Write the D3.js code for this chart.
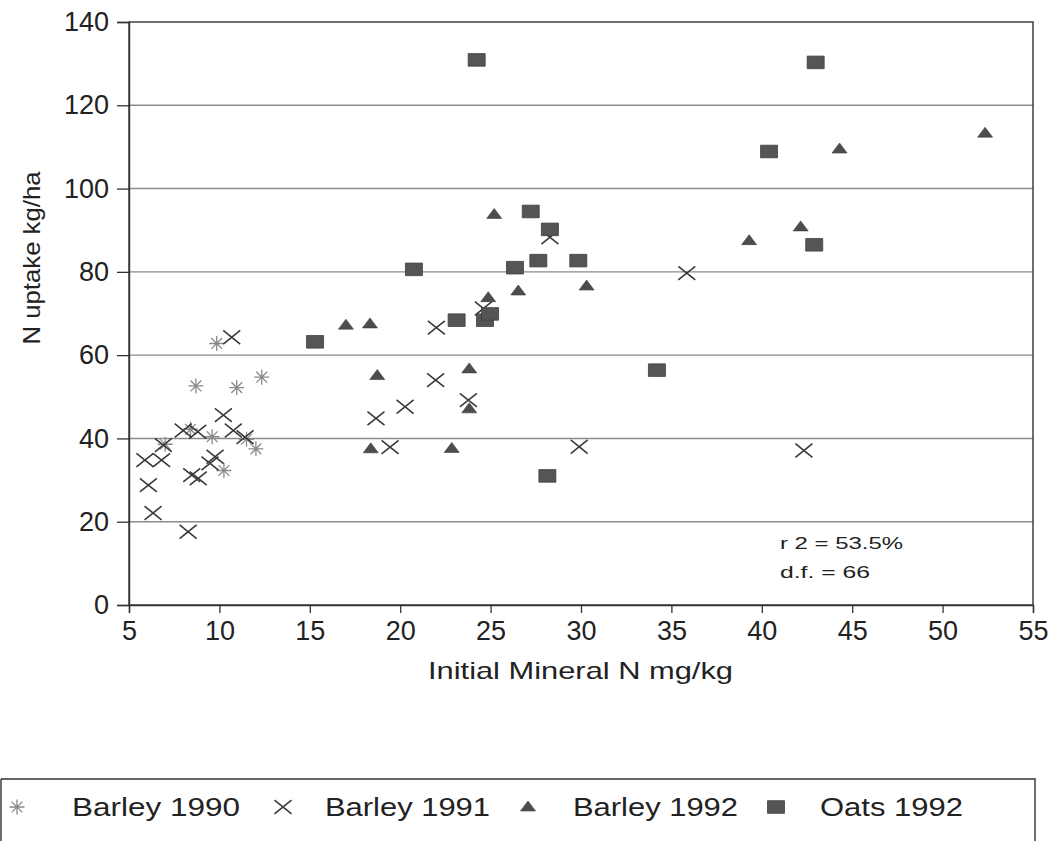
<!DOCTYPE html>
<html>
<head>
<meta charset="utf-8">
<script src="https://cdn.jsdelivr.net/npm/d3@7"></script>
<style>
  html, body { margin: 0; padding: 0; background: #fff; }
  svg { display: block; }
  text { font-family: "Liberation Sans", Arial, sans-serif; fill: #222; }
</style>
</head>
<body>
<svg id="chart" width="1055" height="841"></svg>
<script>
// Initial mineral N (mg/kg) against N uptake (kg/ha), per crop and year
const barley1990X = [9.85, 8.7, 10.96, 12.34, 9.6, 12.02, 10.25, 8.4, 11.5, 7.0];
const barley1990Y = [62.8, 52.6, 52.2, 54.7, 40.4, 37.5, 32.3, 42.2, 39.8, 38.6];

const barley1991X = [10.68, 10.22, 8.0, 8.8, 10.77, 11.42, 6.9, 5.88, 6.8, 9.76, 9.48, 8.47, 8.83,
                     6.07, 6.33, 8.27, 22.0, 21.96, 23.77, 20.27, 18.66, 19.44, 29.9, 28.28, 35.85, 42.33, 24.6];
const barley1991Y = [64.3, 45.6, 41.9, 41.6, 41.9, 40.3, 38.4, 34.8, 34.8, 35.6, 34.0, 31.2, 30.4,
                     28.8, 22.1, 17.6, 66.6, 54.0, 49.2, 47.6, 44.8, 37.9, 38.0, 88.3, 79.7, 37.1, 71.2];

const barley1992X = [17.0, 18.33, 18.73, 23.82, 23.82, 18.37, 22.85, 24.87, 26.53, 30.31, 25.2, 39.3, 42.15, 44.3, 52.35];
const barley1992Y = [67.2, 67.5, 55.1, 56.7, 47.1, 37.5, 37.6, 73.8, 75.4, 76.6, 93.8, 87.5, 90.8, 109.5, 113.3];

const oats1992X = [24.23, 42.98, 40.4, 42.9, 27.22, 28.28, 27.64, 29.85, 20.76, 26.35, 23.12, 24.69, 24.97, 15.29, 28.14, 34.2];
const oats1992Y = [130.9, 130.3, 108.9, 86.5, 94.5, 90.2, 82.7, 82.7, 80.6, 81.0, 68.4, 68.4, 69.9, 63.2, 31.0, 56.4];

const xTicks = [5, 10, 15, 20, 25, 30, 35, 40, 45, 50, 55];
const yTicks = [0, 20, 40, 60, 80, 100, 120, 140];
const gridValues = [20, 40, 60, 80, 100, 120];

const seriesNames = ["Barley 1990", "Barley 1991", "Barley 1992", "Oats 1992"];
const statLines = ["r 2 = 53.5%", "d.f. = 66"];

const svg = d3.select("#chart");

const x = d3.scaleLinear().domain([5, 55]).range([129, 1033]);
const y = d3.scaleLinear().domain([0, 140]).range([605, 22]);

// marker drawing helpers (path centred on 0,0)
const markerPath = {
  asterisk: () => {
    const r = 7.5, d = r * 0.72;
    return `M${-r},0H${r}M0,${-r}V${r}M${-d},${-d}L${d},${d}M${-d},${d}L${d},${-d}`;
  },
  cross: () => {
    const w = 8.5, h = 6.8;
    return `M${-w},${-h}L${w},${h}M${-w},${h}L${w},${-h}`;
  },
  triangle: () => {
    const w = 7.5, h = 10;
    return `M0,${-h * 0.6}L${w},${h * 0.4}L${-w},${h * 0.4}Z`;
  },
  square: () => {
    const w = 8.5, h = 6.3;
    return `M${-w},${-h}H${w}V${h}H${-w}Z`;
  }
};
const markerStyle = {
  asterisk: { fill: "none", stroke: "#8a8a8a", "stroke-width": 1.3 },
  cross: { fill: "none", stroke: "#3a3a3a", "stroke-width": 1.6 },
  triangle: { fill: "#4d4d4d", stroke: "#3a3a3a", "stroke-width": 0.6 },
  square: { fill: "#555555", stroke: "#3f3f3f", "stroke-width": 0.8 }
};
function styleMarker(sel, kind) {
  sel.attr("d", markerPath[kind]());
  Object.entries(markerStyle[kind]).forEach(([k, v]) => sel.attr(k, v));
}

// grid lines
svg.append("g").selectAll("line").data(gridValues).join("line")
  .attr("x1", x(5)).attr("x2", x(55))
  .attr("y1", d => y(d)).attr("y2", d => y(d))
  .attr("stroke", "#8c8c8c").attr("stroke-width", 1.4);

// plot frame
svg.append("rect")
  .attr("x", x(5)).attr("y", y(140))
  .attr("width", x(55) - x(5)).attr("height", y(0) - y(140))
  .attr("fill", "none").attr("stroke", "#333").attr("stroke-width", 1.4);

// axes
const yAxis = svg.append("g").attr("transform", `translate(${x(5)},0)`)
  .call(d3.axisLeft(y).tickValues(yTicks).tickSize(12).tickPadding(8).tickFormat(d3.format("d")));
const xAxis = svg.append("g").attr("transform", `translate(0,${y(0)})`)
  .call(d3.axisBottom(x).tickValues(xTicks).tickSize(8).tickPadding(8).tickFormat(d3.format("d")));
[yAxis, xAxis].forEach(a => {
  a.select(".domain").attr("stroke", "#333").attr("stroke-width", 1.4);
  a.selectAll(".tick line").attr("stroke", "#333").attr("stroke-width", 1.3);
  a.selectAll(".tick text").attr("font-size", 27).attr("fill", "#333")
    .attr("font-family", "\"Liberation Sans\", Arial, sans-serif");
});
xAxis.selectAll(".tick text").attr("dy", "0.72em");

// axis titles
svg.append("text")
  .attr("x", 428).attr("y", 679)
  .attr("font-size", 24).attr("textLength", 305).attr("lengthAdjust", "spacingAndGlyphs")
  .attr("fill", "#333")
  .text("Initial Mineral N mg/kg");
svg.append("text")
  .attr("transform", "translate(40,258) rotate(-90)")
  .attr("text-anchor", "middle")
  .attr("font-size", 24).attr("textLength", 173).attr("lengthAdjust", "spacingAndGlyphs")
  .attr("fill", "#333")
  .text("N uptake kg/ha");

// regression statistics
svg.append("g").selectAll("text").data(statLines).join("text")
  .attr("x", 780).attr("y", (d, i) => 549 + i * 29)
  .attr("font-size", 17)
  .attr("textLength", (d, i) => i === 0 ? 123 : 90).attr("lengthAdjust", "spacingAndGlyphs")
  .attr("fill", "#333")
  .text(d => d);

// data series
const series = [
  { xs: barley1990X, ys: barley1990Y, kind: "asterisk" },
  { xs: barley1991X, ys: barley1991Y, kind: "cross" },
  { xs: barley1992X, ys: barley1992Y, kind: "triangle" },
  { xs: oats1992X, ys: oats1992Y, kind: "square" }
];
series.forEach(s => {
  const pts = s.xs.map((v, i) => [v, s.ys[i]]);
  svg.append("g").selectAll("path").data(pts).join("path")
    .attr("transform", d => `translate(${x(d[0])},${y(d[1])})`)
    .call(sel => styleMarker(sel, s.kind));
});

// legend
const legend = svg.append("g");
legend.append("path")
  .attr("d", "M1,779H1035V845M1,779V845")
  .attr("fill", "none").attr("stroke", "#333").attr("stroke-width", 1.4);
const legendItems = [
  { name: seriesNames[0], kind: "asterisk", mx: 17, tx: 72, tw: 168 },
  { name: seriesNames[1], kind: "cross", mx: 283, tx: 325, tw: 165 },
  { name: seriesNames[2], kind: "triangle", mx: 528, tx: 573, tw: 165 },
  { name: seriesNames[3], kind: "square", mx: 776, tx: 820, tw: 143 }
];
legendItems.forEach(it => {
  const sym = legend.append("path").attr("transform", `translate(${it.mx},807)`);
  styleMarker(sym, it.kind);
  legend.append("text")
    .attr("x", it.tx).attr("y", 816)
    .attr("font-size", 25).attr("textLength", it.tw).attr("lengthAdjust", "spacingAndGlyphs")
    .attr("fill", "#333")
    .text(it.name);
});
</script>
</body>
</html>
